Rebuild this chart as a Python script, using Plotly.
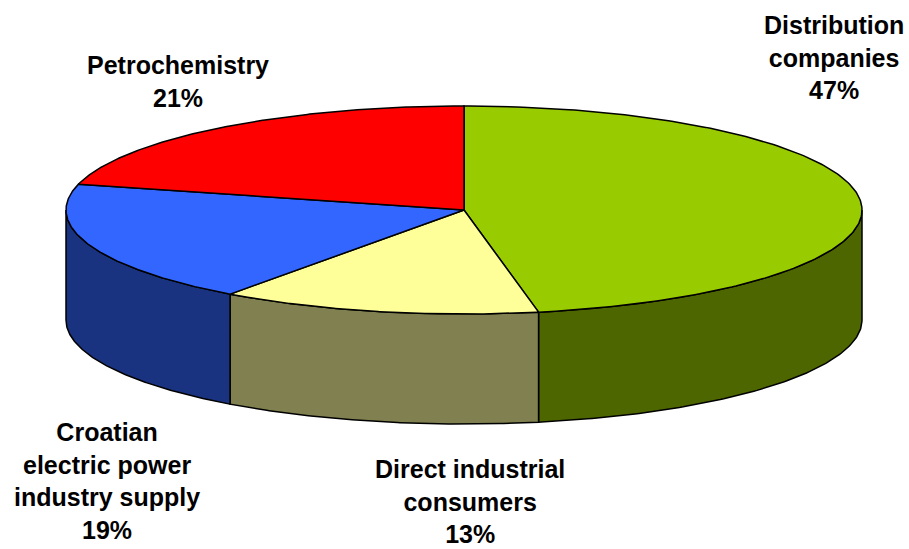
import numpy as np
import plotly.graph_objects as go

# ---- data ----
categories = ["Distribution companies", "Direct industrial consumers",
              "Croatian electric power industry supply", "Petrochemistry"]
values = [47, 13, 19, 21]
label_texts = ["Distribution<br>companies<br>47%",
               "Direct industrial<br>consumers<br>13%",
               "Croatian<br>electric power<br>industry supply<br>19%",
               "Petrochemistry<br>21%"]
top_colors = ["#99CC00", "#FFFF99", "#3366FF", "#FF0000"]
side_colors = ["#4D6600", "#808050", "#1A3380", "#800000"]
label_pos = [(834, 57), (470, 501), (107, 481), (178, 81)]

# ---- geometry of the 3D pie (pixel-like data units) ----
W, H = 909, 549
cx, cy, rx, ry, depth = 464, 210, 398, 104, 110


def pt(theta_deg, dy=0.0):
    t = np.radians(theta_deg)
    return cx + rx * np.cos(t), cy - ry * np.sin(t) + dy


fig = go.Figure()
total = float(sum(values))
starts, ends = [], []
a = 90.0
for v in values:
    b = a - 360.0 * v / total
    starts.append(a)
    ends.append(b)
    a = b

# side faces (front half: theta in [-180, 0])
for i in range(len(values)):
    a, b = starts[i], ends[i]
    hi, lo = min(a, 0.0), max(b, -180.0)
    if hi <= lo:
        continue
    th = np.linspace(hi, lo, 120)
    xt, yt = pt(th)
    xb, yb = pt(th[::-1], depth)
    xs = np.concatenate([xt, xb, xt[:1]])
    ys = np.concatenate([yt, yb, yt[:1]])
    fig.add_trace(go.Scatter(x=xs, y=ys, mode="lines", fill="toself",
                             fillcolor=side_colors[i],
                             line=dict(color="black", width=1.5),
                             hoverinfo="skip", showlegend=False))

# top faces
for i in range(len(values)):
    th = np.linspace(starts[i], ends[i], 200)
    xa, ya = pt(th)
    xs = np.concatenate([[cx], xa, [cx]])
    ys = np.concatenate([[cy], ya, [cy]])
    fig.add_trace(go.Scatter(x=xs, y=ys, mode="lines", fill="toself",
                             fillcolor=top_colors[i],
                             line=dict(color="black", width=1.5),
                             hoverinfo="skip", showlegend=False,
                             name=categories[i]))

for txt, (lx, ly) in zip(label_texts, label_pos):
    fig.add_annotation(x=lx, y=ly, text="<b>%s</b>" % txt, showarrow=False,
                       xanchor="center", yanchor="middle",
                       font=dict(family="Liberation Sans, Arial", size=25,
                                 color="black"))

fig.update_layout(
    width=W, height=H,
    margin=dict(l=0, r=0, t=0, b=0),
    paper_bgcolor="white", plot_bgcolor="white",
    xaxis=dict(range=[0, W], visible=False, fixedrange=True),
    yaxis=dict(range=[H, 0], visible=False, fixedrange=True),
)

fig.write_html("out.html", config={"displayModeBar": False},
               post_script="document.body.style.margin='0';"
                           "document.body.style.overflow='hidden';")
